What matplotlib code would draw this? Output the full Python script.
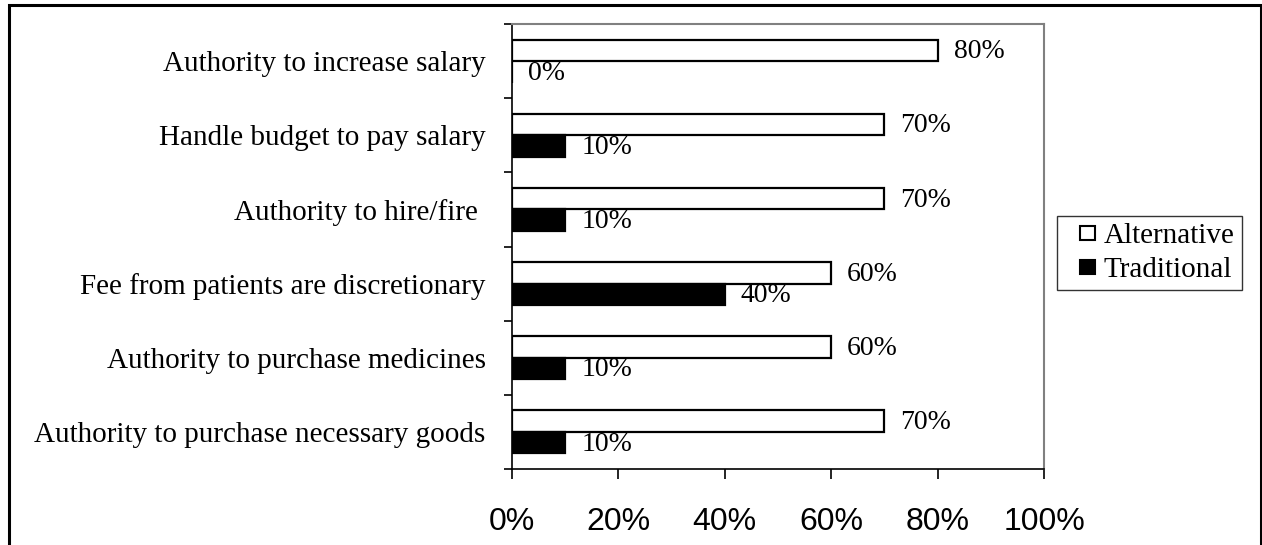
import numpy as np
import matplotlib
matplotlib.use("Agg")
import matplotlib.pyplot as plt
from matplotlib.patches import Rectangle
from matplotlib.ticker import FixedLocator
from matplotlib.legend_handler import HandlerPatch

# data (top to bottom as shown)
categories = [
    "Authority to increase salary",
    "Handle budget to pay salary",
    "Authority to hire/fire ",
    "Fee from patients are discretionary",
    "Authority to purchase medicines",
    "Authority to purchase necessary goods",
]
alternative = [80, 70, 70, 60, 60, 70]
traditional = [0, 10, 10, 40, 10, 10]
xticks = [0, 20, 40, 60, 80, 100]

serif = ["Liberation Serif", "DejaVu Serif"]
sans = ["Liberation Sans", "DejaVu Sans"]


class SquareHandler(HandlerPatch):
    """Small square marker drawn at the right end of the handle box."""
    def create_artists(self, legend, orig_handle, xdescent, ydescent,
                       width, height, fontsize, trans):
        s = 10.5
        p = Rectangle((width - s - xdescent, (height - s) / 2 - ydescent), s, s)
        self.update_prop(p, orig_handle, legend)
        p.set_linewidth(1.5)
        p.set_transform(trans)
        return [p]


fig = plt.figure(figsize=(12.62, 5.45), dpi=100)
W, H = 1262, 545
ax = fig.add_axes([512 / W, 1 - 469 / H, (1044 - 512) / W, (469 - 24) / H])

n = len(categories)
# category 0 at the top
yc = np.arange(n)[::-1] + 0.5
h = 0.29

alt_bars = ax.barh(yc + h / 2, alternative, height=h, color="white",
                   edgecolor="black", linewidth=1.6, label="Alternative")
trad_bars = ax.barh(yc - h / 2, traditional, height=h, color="black",
                    edgecolor="black", linewidth=1.6, label="Traditional")

for bars, vals in [(alt_bars, alternative), (trad_bars, traditional)]:
    for bar, v in zip(bars, vals):
        ax.annotate(f"{v}%", (v, bar.get_y() + bar.get_height() / 2),
                    xytext=(11.5, -1), textcoords="offset points",
                    ha="left", va="center", fontsize=20, family=serif)

ax.set_xlim(0, 100)
ax.set_ylim(0, n)
ax.set_xticks(xticks)
ax.set_xticklabels([f"{t}%" for t in xticks], fontsize=23, family=sans)
ax.tick_params(axis="x", length=7, width=1.2, pad=20, direction="out")

ax.yaxis.set_major_locator(FixedLocator(np.arange(n + 1)))
ax.set_yticklabels([])
ax.yaxis.set_minor_locator(FixedLocator(yc))
ax.set_yticklabels(categories, minor=True, fontsize=21, family=serif)
ax.tick_params(axis="y", which="major", length=6, width=1.2)
ax.tick_params(axis="y", which="minor", length=0, pad=19)

for side in ["top", "right"]:
    ax.spines[side].set_color("#808080")
    ax.spines[side].set_linewidth(1.5)
for side in ["left", "bottom"]:
    ax.spines[side].set_color("black")
    ax.spines[side].set_linewidth(1.2)

leg = ax.legend(handles=[alt_bars.patches[0], trad_bars.patches[0]],
                labels=["Alternative", "Traditional"],
                loc="center left", bbox_to_anchor=(545 / 532, (469 - 253) / 445),
                prop={"family": serif, "size": 21}, frameon=True,
                fancybox=False, handlelength=1.05, handleheight=0.7,
                handletextpad=0.3, borderpad=0.25, labelspacing=0.25,
                borderaxespad=0,
                handler_map={Rectangle: SquareHandler()})
leg.get_frame().set_edgecolor("black")
leg.get_frame().set_linewidth(1.0)

# outer border (bottom edge falls outside the picture)
fig.patches.append(Rectangle((8.5 / W, -0.05), (1260.5 - 8.5) / W, 1.05 - 5.5 / H,
                             transform=fig.transFigure, fill=False,
                             edgecolor="black", linewidth=2.2))

fig.savefig("out.png", dpi=100)
